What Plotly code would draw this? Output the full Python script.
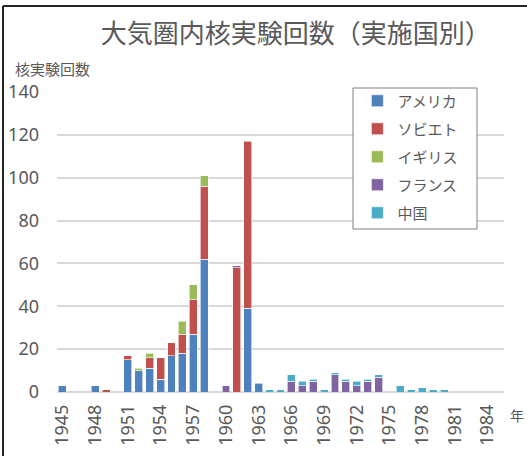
import plotly.graph_objects as go

years = list(range(1945, 1986))

# tests per year, 1945..1985
usa = [3, 0, 0, 3, 0, 0, 15, 10, 11, 6, 17, 18, 27, 62, 0, 0, 0, 39, 4, 0,
       0, 0, 0, 0, 0, 0, 0, 0, 0, 0, 0, 0, 0, 0, 0, 0, 0, 0, 0, 0, 0]
ussr = [0, 0, 0, 0, 1, 0, 2, 0, 5, 10, 6, 9, 16, 34, 0, 0, 58, 78, 0, 0,
        0, 0, 0, 0, 0, 0, 0, 0, 0, 0, 0, 0, 0, 0, 0, 0, 0, 0, 0, 0, 0]
uk = [0, 0, 0, 0, 0, 0, 0, 1, 2, 0, 0, 6, 7, 5, 0, 0, 0, 0, 0, 0,
      0, 0, 0, 0, 0, 0, 0, 0, 0, 0, 0, 0, 0, 0, 0, 0, 0, 0, 0, 0, 0]
france = [0, 0, 0, 0, 0, 0, 0, 0, 0, 0, 0, 0, 0, 0, 0, 3, 1, 0, 0, 0,
          0, 5, 3, 5, 0, 8, 5, 3, 5, 7, 0, 0, 0, 0, 0, 0, 0, 0, 0, 0, 0]
china = [0, 0, 0, 0, 0, 0, 0, 0, 0, 0, 0, 0, 0, 0, 0, 0, 0, 0, 0, 1,
         1, 3, 2, 1, 1, 1, 1, 2, 1, 1, 0, 3, 1, 2, 1, 1, 0, 0, 0, 0, 0]

series = [
    ("アメリカ", usa, "#4F81BD"),
    ("ソビエト", ussr, "#C0504D"),
    ("イギリス", uk, "#9BBB59"),
    ("フランス", france, "#8064A2"),
    ("中国", china, "#4BACC6"),
]

JP = "Noto Sans CJK JP"
GRAY = "#595959"

fig = go.Figure()
for name, vals, color in series:
    fig.add_trace(
        go.Bar(
            x=years,
            y=[v if v else None for v in vals],
            name=name,
            legendgroup=name,
            marker={"color": color, "line": {"color": "white", "width": 0.6}},
        )
    )

fig.update_layout(
    width=527,
    height=456,
    barmode="stack",
    bargap=0.27,
    plot_bgcolor="white",
    paper_bgcolor="white",
    margin={"l": 57, "r": 23, "t": 92, "b": 64, "autoexpand": False},
    font={"family": JP, "color": GRAY},
    title={
        "text": "大気圏内核実験回数（実施国別）",
        "font": {"family": JP, "size": 26, "color": GRAY},
        "x": 0.561,
        "xref": "container",
        "xanchor": "center",
        "y": 0.925,
        "yref": "container",
        "yanchor": "middle",
    },
    legend={
        "x": 0.672,
        "xanchor": "left",
        "y": 1.025,
        "yanchor": "top",
        "bgcolor": "rgba(0,0,0,0)",
        "borderwidth": 0,
        "font": {"family": JP, "size": 15, "color": GRAY},
        "tracegroupgap": 5.5,
        "traceorder": "grouped",
    },
    shapes=[
        # legend frame
        dict(type="rect", xref="paper", yref="paper",
             x0=0.6622, x1=0.9396, y0=0.5433, y1=1.0133,
             line={"color": "#808080", "width": 1}, fillcolor="white",
             layer="above"),
        # outer chart frame (left and top edges)
        dict(type="line", xref="paper", yref="paper",
             x0=-0.1208, x1=-0.1208, y0=-0.3, y1=1.2867,
             line={"color": "#262626", "width": 2}),
        dict(type="line", xref="paper", yref="paper",
             x0=-0.1208, x1=1.2, y0=1.2867, y1=1.2867,
             line={"color": "#262626", "width": 2}),
    ],
    annotations=[
        dict(text="核実験回数", xref="paper", yref="paper",
             x=-0.0985, y=1.0767, xanchor="left", yanchor="middle",
             showarrow=False, font={"family": JP, "size": 15, "color": GRAY}),
        dict(text="年", xref="paper", yref="paper",
             x=1.029, y=-0.0767, xanchor="center", yanchor="middle",
             showarrow=False, font={"family": JP, "size": 14, "color": GRAY}),
    ],
)

fig.update_xaxes(
    range=[1944.5, 1985.5],
    tickmode="linear",
    tick0=1945,
    dtick=3,
    tickangle=-90,
    ticklabelstandoff=8,
    tickfont={"family": "Noto Sans", "size": 18, "color": GRAY},
    showgrid=False,
    showline=False,
    zeroline=False,
    automargin=False,
)
fig.update_yaxes(
    range=[0, 140],
    dtick=20,
    tickfont={"family": "Noto Sans", "size": 18, "color": GRAY},
    ticklabelstandoff=17,
    gridcolor="#D9D9D9",
    gridwidth=1.5,
    zeroline=True,
    zerolinecolor="#D9D9D9",
    zerolinewidth=1.5,
    showline=False,
    automargin=False,
)

fig.write_html(
    "out.html",
    config={"displayModeBar": False},
    post_script="document.body.style.margin='0';document.body.style.overflow='hidden';",
)
